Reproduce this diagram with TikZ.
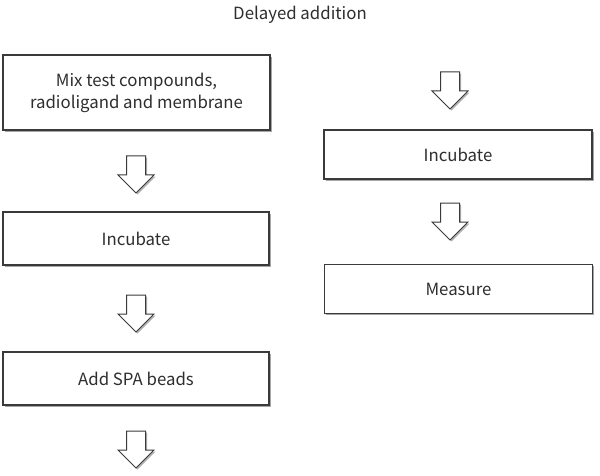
\documentclass[tikz,border=0pt]{standalone}
\usepackage{fontspec}
\setmainfont{Noto Sans CJK JP}
\usetikzlibrary{shadows}
\definecolor{edge}{HTML}{3A3A3A}
\definecolor{txt}{HTML}{2E2E2E}
\tikzset{
  stepbox/.style={draw=edge, line width=1.2pt, fill=white, text=txt,
    drop shadow={shadow xshift=1.6pt, shadow yshift=-1.6pt, fill=black, opacity=0.35},
    font=\fontsize{16.8}{22}\selectfont, align=center, inner sep=0pt},
  blockarrow/.style={draw=edge, line width=1pt, fill=white, line join=miter,
    drop shadow={shadow xshift=1.6pt, shadow yshift=-1.6pt, fill=black, opacity=0.3}},
  darrow/.pic={\path[blockarrow] (-9.5,0) -- (9.5,0) -- (9.5,19) -- (18,19) -- (0,37) -- (-18,19) -- (-9.5,19) -- cycle;}
}
\begin{document}
\begin{tikzpicture}[x=1pt,y=-1pt]
\useasboundingbox[fill=white] (0,0) rectangle (600,476);
\node[text=txt, font=\fontsize{16.8}{22}\selectfont] (title) at (300,15) {Delayed addition};
\node[stepbox, minimum width=267pt, minimum height=75pt] (mix) at (136.5,92.5) {Mix test compounds,\\radioligand and membrane};
\node[stepbox, minimum width=266pt, minimum height=53pt] (inc1) at (136,238.5) {Incubate};
\node[stepbox, minimum width=266pt, minimum height=53pt] (spa) at (136,378.5) {Add SPA beads};
\node[stepbox, minimum width=268pt, minimum height=49pt] (inc2) at (458,154.5) {Incubate};
\node[stepbox, minimum width=268pt, minimum height=49pt] (meas) at (458.5,289) {Measure};
\pic (a1) at (136,156) {darrow};
\pic (a2) at (136,295) {darrow};
\pic (a3) at (136,431) {darrow};
\pic (a4) at (450,72) {darrow};
\pic (a5) at (450,203) {darrow};
\end{tikzpicture}
\end{document}
